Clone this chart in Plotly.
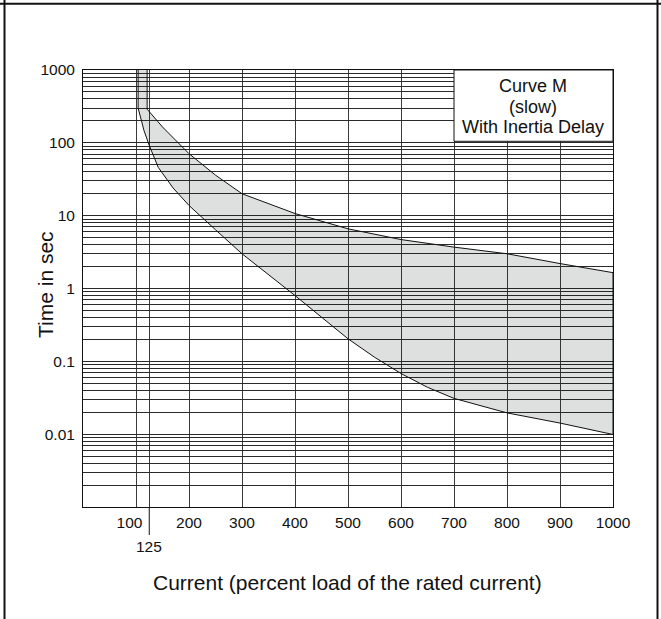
import plotly.graph_objects as go

# ---------------- data ----------------
# lower (fast) boundary of the tripping band
lower_x = [104, 104, 110, 115, 125, 142, 170, 200, 250, 300, 400, 500, 550, 600, 650, 700, 800, 900, 1000]
lower_y = [1000, 300, 205, 148, 92, 46, 24, 13.8, 6.4, 3.0, 0.80, 0.204, 0.114, 0.068, 0.044, 0.031, 0.0196, 0.0142, 0.0099]
# upper (slow) boundary of the tripping band
upper_x = [121, 121, 150, 200, 250, 300, 400, 500, 600, 700, 800, 900, 1000]
upper_y = [1000, 290, 165, 71, 36, 20, 10.7, 6.6, 4.7, 3.7, 3.0, 2.2, 1.65]

x_ticks = [100, 125, 200, 300, 400, 500, 600, 700, 800, 900, 1000]
x_labels = ["100&nbsp;&nbsp;&nbsp;", "", "200", "300", "400", "500", "600", "700", "800", "900", "1000"]
decades = [0.001, 0.01, 0.1, 1, 10, 100, 1000]
decade_labels = ["", "0.01", "0.1", "1", "10", "100", "1000"]
box_lines = ["Curve M", "(slow)", "With Inertia Delay"]
x_title = "Current (percent load of the rated current)"
y_title = "Time in sec"

# ---------------- layout helpers ----------------
W, H = 661, 619
L, R, T, B = 83, 48, 70, 112
PW, PH = W - L - R, H - T - B


def px_x(px):
    return (px - L) / PW


def px_y(py):
    return (H - B - py) / PH


FONT = "Liberation Sans, Arial, Helvetica, sans-serif"

# y grid values 1..9 x 10^k
y_vals, y_text = [], []
for d, lab in zip(decades[:-1], decade_labels[:-1]):
    for m in range(1, 10):
        y_vals.append(d * m)
        y_text.append(lab if m == 1 else "")
y_vals.append(decades[-1])
y_text.append(decade_labels[-1])

# band polygon: lower curve, then upper curve reversed
poly_x = lower_x + upper_x[::-1]
poly_y = lower_y + upper_y[::-1]

fig = go.Figure()
fig.add_trace(go.Scatter(
    x=poly_x, y=poly_y, mode="lines", fill="toself",
    fillcolor="rgba(20,30,25,0.14)",
    line=dict(color="#111111", width=1),
    hoverinfo="skip", showlegend=False,
))

fig.update_xaxes(
    range=[0, 1000], tickmode="array", tickvals=x_ticks, ticktext=x_labels,
    showgrid=True, gridcolor="#3a3a3a", gridwidth=1,
    showline=True, linecolor="#111111", linewidth=1, mirror=True,
    ticks="", zeroline=False,
    tickfont=dict(family=FONT, size=15.5, color="#111111"),
    ticklabelstandoff=1,
)
fig.update_yaxes(
    type="log", range=[-3, 3], tickmode="array", tickvals=y_vals, ticktext=y_text,
    showgrid=True, gridcolor="#2a2a2a", gridwidth=1,
    showline=True, linecolor="#111111", linewidth=1, mirror=True,
    ticks="", zeroline=False,
    tickfont=dict(family=FONT, size=15.5, color="#111111"),
    ticklabelstandoff=4,
)

shapes = []
# legend-like box covering the grid
shapes.append(dict(type="rect", xref="x", yref="y", x0=700, x1=1000,
                   y0=105, y1=1000, fillcolor="white",
                   line=dict(color="#111111", width=1), layer="above"))
# extension of the 125 line below the axis
shapes.append(dict(type="line", xref="x", yref="paper", x0=125, x1=125,
                   y0=0, y1=px_y(535), line=dict(color="#111111", width=1)))
# outer frame lines
shapes.append(dict(type="line", xref="paper", yref="paper", x0=px_x(0), x1=px_x(W),
                   y0=px_y(3.7), y1=px_y(3.7), line=dict(color="#111111", width=2)))
shapes.append(dict(type="line", xref="paper", yref="paper", x0=px_x(4.5), x1=px_x(4.5),
                   y0=px_y(0), y1=px_y(H), line=dict(color="#111111", width=2)))
shapes.append(dict(type="line", xref="paper", yref="paper", x0=px_x(657.5), x1=px_x(657.5),
                   y0=px_y(0), y1=px_y(H), line=dict(color="#111111", width=2)))

annotations = []
for txt, py in zip(box_lines, [86, 107, 127]):
    annotations.append(dict(text=txt, xref="paper", yref="paper", x=px_x(532.8), y=px_y(py),
                            xanchor="center", yanchor="middle", showarrow=False,
                            font=dict(family=FONT, size=18, color="#111111")))
annotations.append(dict(text="125", xref="x", yref="paper", x=125, y=px_y(546.5),
                        xanchor="center", yanchor="middle", showarrow=False,
                        font=dict(family=FONT, size=15.5, color="#111111")))
annotations.append(dict(text=x_title, xref="paper", yref="paper", x=px_x(347.5), y=px_y(582),
                        xanchor="center", yanchor="middle", showarrow=False,
                        font=dict(family=FONT, size=21, color="#111111")))
annotations.append(dict(text=y_title, xref="paper", yref="paper", x=px_x(45), y=px_y(285),
                        xanchor="center", yanchor="middle", showarrow=False, textangle=-90,
                        font=dict(family=FONT, size=21, color="#111111")))

fig.update_layout(
    width=W, height=H,
    margin=dict(l=L, r=R, t=T, b=B, autoexpand=False),
    paper_bgcolor="white", plot_bgcolor="white",
    shapes=shapes, annotations=annotations,
    showlegend=False,
)

fig.write_html(
    "out.html",
    config={"displayModeBar": False},
    post_script="document.body.style.margin='0';document.body.style.overflow='hidden';",
)
